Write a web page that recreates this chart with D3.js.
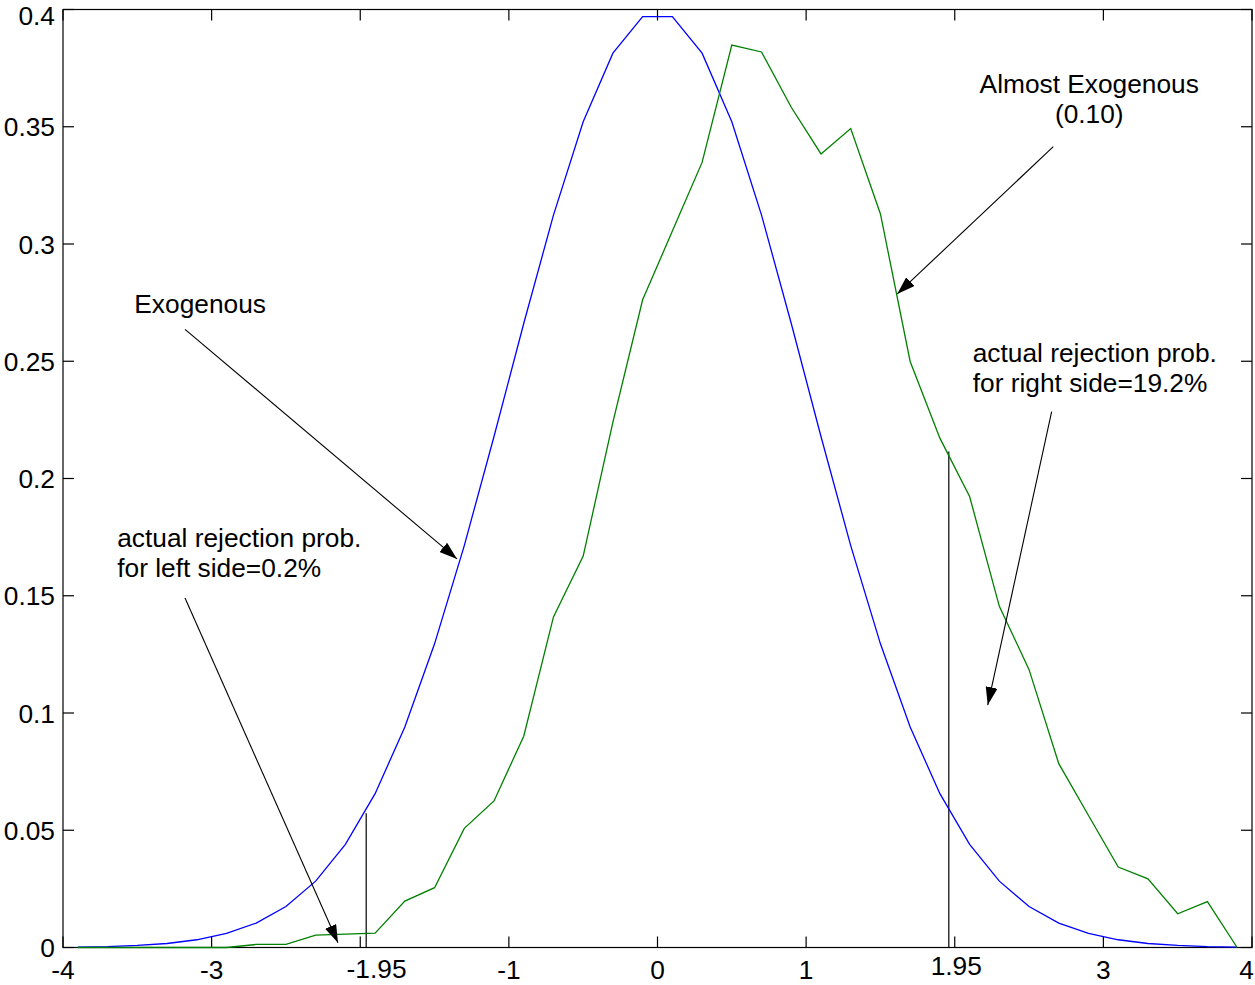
<!DOCTYPE html>
<html>
<head>
<meta charset="utf-8">
<script src="https://cdn.jsdelivr.net/npm/d3@7"></script>
<style>
  html, body { margin: 0; padding: 0; background: #fff; }
  svg { display: block; }
  text { font-family: "Liberation Sans", Arial, Helvetica, sans-serif; font-size: 26.3px; fill: #000; }
</style>
</head>
<body>
<svg id="chart" width="1255" height="985"></svg>
<script>
// ---- data ----
const xGrid = [-3.9,-3.7,-3.5,-3.3,-3.1,-2.9,-2.7,-2.5,-2.3,-2.1,-1.9,-1.7,-1.5,-1.3,-1.1,-0.9,-0.7,-0.5,-0.3,-0.1,
               0.1,0.3,0.5,0.7,0.9,1.1,1.3,1.5,1.7,1.9,2.1,2.3,2.5,2.7,2.9,3.1,3.3,3.5,3.7,3.9];
const exogenous = [0.0002,0.0004,0.0009,0.0017,0.0033,0.0060,0.0104,0.0175,0.0283,0.0440,0.0656,0.0940,0.1295,0.1714,0.2179,0.2661,0.3123,0.3521,0.3814,0.3970,
                   0.3970,0.3814,0.3521,0.3123,0.2661,0.2179,0.1714,0.1295,0.0940,0.0656,0.0440,0.0283,0.0175,0.0104,0.0060,0.0033,0.0017,0.0009,0.0004,0.0002];
const almostExogenous = [0,0,0,0,0,0,0.0013,0.0013,0.0053,0.0057,0.0061,0.0198,0.0255,0.0508,0.0625,0.0901,0.1410,0.1669,0.2240,0.2762,
                         0.3055,0.3348,0.3848,0.3819,0.3583,0.3384,0.3492,0.3128,0.2499,0.2172,0.1923,0.1455,0.1185,0.0784,0.0563,0.0343,0.0293,0.0144,0.0196,0];
const xTicks = [-4,-3,-2,-1,0,1,2,3,4];
const xTickLabels = ["-4","-3","","-1","0","1","","3","4"];
const criticalLabels = [{x:-1.89, text:"-1.95"}, {x:2.01, text:"1.95"}];
const yTicks = [0,0.05,0.1,0.15,0.2,0.25,0.3,0.35,0.4];
const yTickLabels = ["0","0.05","0.1","0.15","0.2","0.25","0.3","0.35","0.4"];
const criticalLines = [{x:-1.96, y:0.0572}, {x:1.96, y:0.2115}];
const annotations = [
  {lines:["Exogenous"], x:-3.52, y:0.2705, anchor:"start", from:[-3.179,0.2636], to:[-1.349,0.1657]},
  {lines:["actual rejection prob.","for left side=0.2%"], x:-3.635, y:0.1708, anchor:"start", from:[-3.179,0.1490], to:[-2.150,0.0020]},
  {lines:["Almost Exogenous","(0.10)"], x:2.905, y:0.3643, anchor:"middle", from:[2.663,0.3415], to:[1.613,0.2787]},
  {lines:["actual rejection prob.","for right side=19.2%"], x:2.121, y:0.2498, anchor:"start", from:[2.652,0.2285], to:[2.222,0.1034]}
];

// ---- layout ----
const W = 1255;
const svg = d3.select("#chart");
const L = 63, R = 1252, T = 9.5, B = 947.5;
const x = d3.scaleLinear().domain([-4,4]).range([L,R]);
const y = d3.scaleLinear().domain([0,0.4]).range([B,T]);
const tickLen = 11;

// frame
svg.append("rect").attr("x",L).attr("y",T).attr("width",R-L).attr("height",B-T)
  .attr("fill","none").attr("stroke","#000").attr("stroke-width",1.2);

// ticks (inward, all four sides)
const tg = svg.append("g").attr("stroke","#000").attr("stroke-width",1.2);
xTicks.forEach(v => {
  tg.append("line").attr("x1",x(v)).attr("x2",x(v)).attr("y1",B).attr("y2",B-tickLen);
  tg.append("line").attr("x1",x(v)).attr("x2",x(v)).attr("y1",T).attr("y2",T+tickLen);
});
yTicks.forEach(v => {
  tg.append("line").attr("x1",L).attr("x2",L+tickLen).attr("y1",y(v)).attr("y2",y(v));
  tg.append("line").attr("x1",R).attr("x2",R-tickLen).attr("y1",y(v)).attr("y2",y(v));
});

// tick labels
xTicks.forEach((v,i) => {
  if (!xTickLabels[i]) return;
  const t = svg.append("text").attr("x",x(v)).attr("y",B+31.5).attr("text-anchor","middle").text(xTickLabels[i]);
  const half = t.node().getComputedTextLength() / 2;
  if (x(v) + half > W - 1) t.attr("x", W - 1 - half);
});
criticalLabels.forEach((d,i) => {
  svg.append("text").attr("x",x(d.x)).attr("y",B + (i===0 ? 30.5 : 27)).attr("text-anchor","middle").text(d.text);
});
yTicks.forEach((v,i) => {
  svg.append("text").attr("x",L-8).attr("y",Math.max(y(v)+9.5, 24.5)).attr("text-anchor","end").text(yTickLabels[i]);
});

// critical value lines
criticalLines.forEach(d => {
  svg.append("line").attr("x1",x(d.x)).attr("x2",x(d.x)).attr("y1",y(0)).attr("y2",y(d.y))
    .attr("stroke","#000").attr("stroke-width",1.2);
});

// curves
const line = d3.line().x((d,i) => x(xGrid[i])).y(d => y(d));
svg.append("path").datum(exogenous).attr("d",line).attr("fill","none").attr("stroke","#0000ff").attr("stroke-width",1.3);
svg.append("path").datum(almostExogenous).attr("d",line).attr("fill","none").attr("stroke","#008000").attr("stroke-width",1.3);

// arrowhead marker
svg.append("defs").append("marker").attr("id","arrow")
  .attr("viewBox","0 0 18 12").attr("refX",18).attr("refY",6)
  .attr("markerWidth",18).attr("markerHeight",12).attr("markerUnits","userSpaceOnUse")
  .attr("orient","auto")
  .append("path").attr("d","M0,0 L18,6 L0,12 Z").attr("fill","#000");

// annotations
annotations.forEach(a => {
  const t = svg.append("text").attr("x",x(a.x)).attr("y",y(a.y)).attr("text-anchor",a.anchor);
  a.lines.forEach((s,i) => {
    t.append("tspan").attr("x",x(a.x)).attr("dy", i===0 ? 0 : 30).text(s);
  });
  svg.append("line").attr("x1",x(a.from[0])).attr("y1",y(a.from[1]))
    .attr("x2",x(a.to[0])).attr("y2",y(a.to[1]))
    .attr("stroke","#000").attr("stroke-width",1.1).attr("marker-end","url(#arrow)");
});
</script>
</body>
</html>
